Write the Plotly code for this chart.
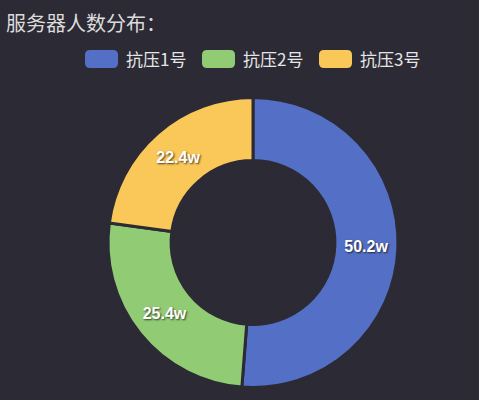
import plotly.graph_objects as go

# Server population by stress-test group (unit: w = 10k)
labels = ["抗压1号", "抗压2号", "抗压3号"]
values = [50.2, 25.4, 22.4]
colors = ["#5470c6", "#91cc75", "#fac858"]

W, H = 479, 400
BG = "#2b2a35"
CJK = "Noto Sans CJK SC, Noto Sans, sans-serif"
LATIN = "Liberation Sans, Arial, sans-serif"

# legend layout (pixels from top-left)
LEG_X0 = 85
LEG_Y = 59
SW_W, SW_H, SW_R = 33, 18, 5
ITEM_STEP = 117


def px(x):
    return x / W


def py(y):
    return 1 - y / H


def rounded_rect(x0, y0, x1, y1, r):
    # SVG path in paper coords, built from pixel positions
    p = [
        f"M {px(x0 + r)},{py(y0)}",
        f"L {px(x1 - r)},{py(y0)}",
        f"Q {px(x1)},{py(y0)} {px(x1)},{py(y0 + r)}",
        f"L {px(x1)},{py(y1 - r)}",
        f"Q {px(x1)},{py(y1)} {px(x1 - r)},{py(y1)}",
        f"L {px(x0 + r)},{py(y1)}",
        f"Q {px(x0)},{py(y1)} {px(x0)},{py(y1 - r)}",
        f"L {px(x0)},{py(y0 + r)}",
        f"Q {px(x0)},{py(y0)} {px(x0 + r)},{py(y0)}",
        "Z",
    ]
    return " ".join(p)


fig = go.Figure()

fig.add_trace(
    go.Pie(
        labels=labels,
        values=values,
        hole=0.565,
        sort=False,
        direction="clockwise",
        rotation=0,
        marker=dict(colors=colors, line=dict(color=BG, width=3)),
        texttemplate="%{value}w",
        textposition="inside",
        insidetextorientation="horizontal",
        textfont=dict(color="white", size=16, family=LATIN, weight="bold",
                      shadow="1px 1px 2px rgba(0,0,0,0.7)"),
        domain=dict(x=[px(108), px(398)], y=[py(388), py(97)]),
        showlegend=False,
        hoverinfo="label+value+percent",
    )
)

# custom legend with rounded swatches
shapes = []
annotations = []
for i, (name, col) in enumerate(zip(labels, colors)):
    x0 = LEG_X0 + i * ITEM_STEP
    shapes.append(dict(
        type="path",
        xref="paper", yref="paper",
        path=rounded_rect(x0, LEG_Y - SW_H / 2, x0 + SW_W, LEG_Y + SW_H / 2, SW_R),
        fillcolor=col,
        line=dict(width=0),
        layer="above",
    ))
    annotations.append(dict(
        text=name,
        xref="paper", yref="paper",
        x=px(x0 + SW_W + 6), y=py(LEG_Y),
        xanchor="left", yanchor="middle",
        showarrow=False,
        font=dict(size=17, color="#e6e6e6", family=CJK),
    ))

annotations.append(dict(
    text="服务器人数分布：",
    xref="paper", yref="paper",
    x=px(4), y=py(22),
    xanchor="left", yanchor="middle",
    showarrow=False,
    font=dict(size=20, color="#dcdcdc", family=CJK),
))

fig.update_layout(
    width=W,
    height=H,
    margin=dict(l=0, r=0, t=0, b=0),
    paper_bgcolor=BG,
    plot_bgcolor=BG,
    font=dict(family=CJK, color="#e6e6e6"),
    shapes=shapes,
    annotations=annotations,
)

fig.write_html(
    "out.html",
    config={"displayModeBar": False},
    post_script="document.body.style.margin='0';document.body.style.background='%s';" % BG,
)
